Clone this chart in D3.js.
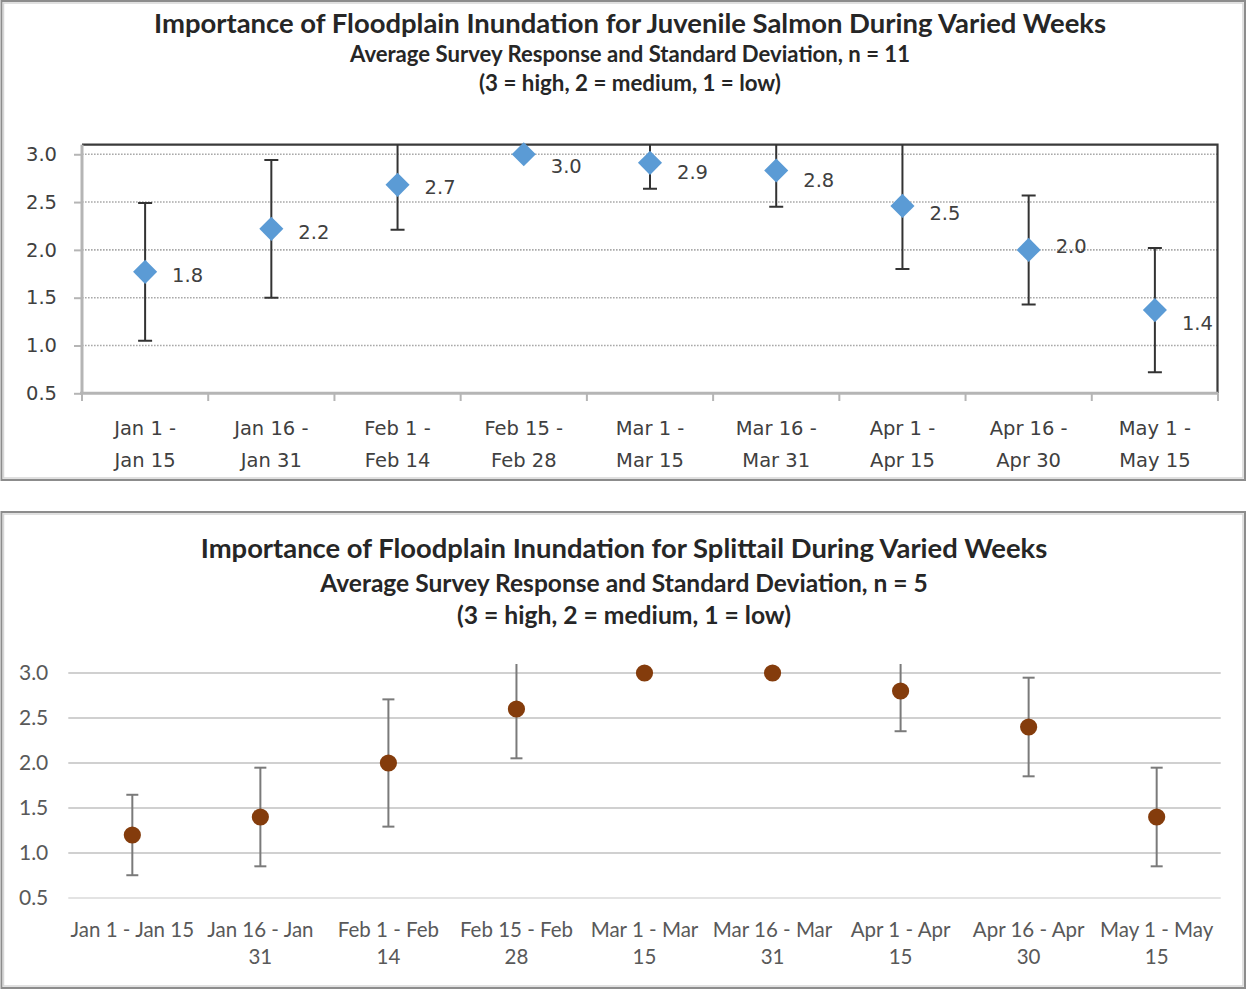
<!DOCTYPE html>
<html>
<head>
<meta charset="utf-8">
<script src="https://cdn.jsdelivr.net/npm/d3@7"></script>
<style>
  html, body { margin: 0; padding: 0; background: #fff; }
  svg { display: block; }
</style>
</head>
<body>
<svg id="chart" width="1247" height="991"></svg>
<script>
// Survey periods (two-week windows)
const periods = ["Jan 1 - Jan 15", "Jan 16 - Jan 31", "Feb 1 - Feb 14", "Feb 15 - Feb 28",
  "Mar 1 - Mar 15", "Mar 16 - Mar 31", "Apr 1 - Apr 15", "Apr 16 - Apr 30", "May 1 - May 15"];

// Juvenile salmon: average response and standard deviation (n = 11)
const salmonMean = [1.77, 2.22, 2.68, 3.0, 2.91, 2.83, 2.46, 2.0, 1.37];
const salmonSD   = [0.72, 0.72, 0.47, 0.0, 0.27, 0.38, 0.66, 0.57, 0.65];

// Splittail: average response and standard deviation (n = 5)
const splittailMean = [1.2, 1.4, 2.0, 2.6, 3.0, 3.0, 2.8, 2.4, 1.4];
const splittailSD   = [0.447, 0.548, 0.707, 0.548, 0.0, 0.0, 0.447, 0.548, 0.548];

// Axis tick values
const yTicks = [0.5, 1.0, 1.5, 2.0, 2.5, 3.0];

// Category labels as they wrap under each chart
const salmonTickLines = periods.map(p => p.replace(" - ", " -\n"));
const splittailTickLines = ["Jan 1 - Jan 15", "Jan 16 - Jan\n31", "Feb 1 - Feb\n14", "Feb 15 - Feb\n28",
  "Mar 1 - Mar\n15", "Mar 16 - Mar\n31", "Apr 1 - Apr\n15", "Apr 16 - Apr\n30", "May 1 - May\n15"];

// Vertical nudges (px) for the salmon value labels
const salmonLabelNudge = [3.5, 2.7, 2.3, 12, 9, 9.7, 7.6, -4, 12.7];

const fmt = d3.format(".1f");
const svg = d3.select("#chart");
svg.append("rect").attr("width", 1247).attr("height", 991).attr("fill", "#fff");

// Scale a text element's font size so it spans the given width
function fitWidth(sel, target) {
  const w = sel.node().getComputedTextLength();
  const fs = parseFloat(sel.attr("font-size"));
  sel.attr("font-size", (fs * target / w).toFixed(2));
}

function panelFrame(y, h) {
  svg.append("rect").attr("x", 1.5).attr("y", y).attr("width", 1243.5).attr("height", h)
    .attr("fill", "none").attr("stroke", "#8c8c8c").attr("stroke-width", 2);
  svg.append("rect").attr("x", 3.5).attr("y", y + 2).attr("width", 1239.5).attr("height", h - 4)
    .attr("fill", "none").attr("stroke", "#d6d6d6").attr("stroke-width", 1.5);
}

function titles(lines, cx, family, color) {
  lines.forEach(l => {
    const t = svg.append("text").attr("x", cx).attr("y", l.y)
      .attr("text-anchor", "middle").attr("font-family", family)
      .attr("font-weight", "bold").attr("font-size", l.size).attr("fill", color).text(l.text);
    fitWidth(t, l.width);
  });
}

/* ---------------- Juvenile salmon chart ---------------- */
panelFrame(1, 479);
titles([
  { text: "Importance of Floodplain Inundation for Juvenile Salmon During Varied Weeks", y: 33, size: 24, width: 952 },
  { text: "Average Survey Response and Standard Deviation, n = 11", y: 62, size: 18, width: 560 },
  { text: "(3 = high,  2 = medium, 1 = low)", y: 91, size: 18, width: 302 }
], 630, "Lato, 'Open Sans', sans-serif", "#262626");

const x1 = d3.scaleBand().domain(periods).range([82, 1218]);
const y1 = d3.scaleLinear().domain([0.5, 3.1]).range([393.3, 144.7]);

const g1 = svg.append("g");
// dotted gridlines
g1.selectAll("line.grid").data(yTicks.slice(1)).join("line")
  .attr("x1", 82).attr("x2", 1218).attr("y1", d => y1(d)).attr("y2", d => y1(d))
  .attr("stroke", "#a9a9a9").attr("stroke-width", 1.6).attr("stroke-dasharray", "1.6 1.4");

// plot area border (top / right)
g1.append("path")
  .attr("d", `M82,${y1(3.1)}H1217.5V393.3`)
  .attr("fill", "none").attr("stroke", "#3a3a3a").attr("stroke-width", 2.2);

// y axis
const yAxis1 = g1.append("g").attr("transform", "translate(82,0)")
  .call(d3.axisLeft(y1).tickValues(yTicks).tickFormat(fmt).tickSize(8).tickSizeOuter(0).tickPadding(17));
yAxis1.select(".domain").attr("d", `M0,${y1(3.1)}V393.3`).attr("stroke", "#b5b5b5").attr("stroke-width", 3);
yAxis1.selectAll(".tick line").attr("stroke", "#b5b5b5").attr("stroke-width", 2);
yAxis1.selectAll(".tick text").attr("font-family", "'DejaVu Sans', Verdana, sans-serif")
  .attr("font-size", 19.5).attr("fill", "#404040");

// x axis with ticks on category boundaries
g1.append("line").attr("x1", 80).attr("x2", 1218).attr("y1", 393.3).attr("y2", 393.3)
  .attr("stroke", "#b5b5b5").attr("stroke-width", 3);
g1.selectAll("line.xtick").data(d3.range(periods.length + 1)).join("line")
  .attr("x1", i => x1.range()[0] + i * x1.bandwidth()).attr("x2", i => x1.range()[0] + i * x1.bandwidth())
  .attr("y1", 393.3).attr("y2", 401).attr("stroke", "#b5b5b5").attr("stroke-width", 2);
g1.selectAll("text.xlab").data(periods).join("text")
  .attr("text-anchor", "middle").attr("font-family", "'DejaVu Sans', Verdana, sans-serif")
  .attr("font-size", 19.5).attr("fill", "#404040")
  .each(function(d, i) {
    const lines = salmonTickLines[i].split("\n");
    d3.select(this).selectAll("tspan").data(lines).join("tspan")
      .attr("x", x1(d) + x1.bandwidth() / 2).attr("y", (l, j) => 435 + j * 32).text(l => l);
  });

// clipped marks
svg.append("clipPath").attr("id", "clip1").append("rect")
  .attr("x", 82).attr("y", y1(3.1)).attr("width", 1136).attr("height", 393.3 - y1(3.1));
const m1 = g1.append("g").attr("clip-path", "url(#clip1)");
const salmon = periods.map((p, i) => ({ p, mean: salmonMean[i], sd: salmonSD[i], i }));
const cx1 = d => x1(d.p) + x1.bandwidth() / 2;

const eb1 = m1.selectAll("g.eb").data(salmon.filter(d => d.sd > 0)).join("g");
eb1.append("line").attr("x1", cx1).attr("x2", cx1)
  .attr("y1", d => y1(d.mean + d.sd)).attr("y2", d => y1(d.mean - d.sd));
eb1.append("line").attr("x1", d => cx1(d) - 7).attr("x2", d => cx1(d) + 7)
  .attr("y1", d => y1(d.mean + d.sd)).attr("y2", d => y1(d.mean + d.sd));
eb1.append("line").attr("x1", d => cx1(d) - 7).attr("x2", d => cx1(d) + 7)
  .attr("y1", d => y1(d.mean - d.sd)).attr("y2", d => y1(d.mean - d.sd));
eb1.selectAll("line").attr("stroke", "#333").attr("stroke-width", 2);

const diamond = d3.symbol().type(d3.symbolSquare).size(290);
g1.selectAll("path.pt").data(salmon).join("path")
  .attr("d", diamond)
  .attr("transform", d => `translate(${cx1(d)},${y1(d.mean)}) rotate(45)`)
  .attr("fill", "#5B9BD5");

g1.selectAll("text.val").data(salmon).join("text")
  .attr("x", d => cx1(d) + 27).attr("y", d => y1(d.mean) + salmonLabelNudge[d.i] + 7)
  .attr("font-family", "'DejaVu Sans', Verdana, sans-serif").attr("font-size", 19.5)
  .attr("fill", "#404040").text(d => fmt(d.mean));

/* ---------------- Splittail chart ---------------- */
panelFrame(512, 476);
titles([
  { text: "Importance of Floodplain Inundation for Splittail During Varied Weeks", y: 558, size: 24, width: 847 },
  { text: "Average Survey Response and Standard Deviation, n = 5", y: 592, size: 18, width: 608 },
  { text: "(3 = high, 2 = medium, 1 = low)", y: 624, size: 18, width: 334 }
], 624, "Lato, 'Open Sans', sans-serif", "#262626");

const x2 = d3.scaleBand().domain(periods).range([68.3, 1220.7]);
const y2 = d3.scaleLinear().domain([0.5, 3.0]).range([898, 673]);

const g2 = svg.append("g");
g2.selectAll("line.grid").data(yTicks).join("line")
  .attr("x1", 68.3).attr("x2", 1220.7).attr("y1", d => y2(d)).attr("y2", d => y2(d))
  .attr("stroke", d => d === 0.5 ? "#e3e3e3" : "#d0d0d0").attr("stroke-width", 2);

const yAxis2 = g2.append("g").attr("transform", "translate(68.3,0)")
  .call(d3.axisLeft(y2).tickValues(yTicks).tickFormat(fmt).tickSize(0).tickPadding(20));
yAxis2.select(".domain").remove();
yAxis2.selectAll(".tick text").attr("font-family", "Lato, 'Open Sans', sans-serif")
  .attr("font-size", 21).attr("fill", "#595959");

g2.selectAll("text.xlab").data(periods).join("text")
  .attr("text-anchor", "middle").attr("font-family", "Lato, 'Open Sans', sans-serif")
  .attr("font-size", 20.5).attr("fill", "#595959")
  .each(function(d, i) {
    const lines = splittailTickLines[i].split("\n");
    d3.select(this).selectAll("tspan").data(lines).join("tspan")
      .attr("x", x2(d) + x2.bandwidth() / 2).attr("y", (l, j) => 937 + j * 27).text(l => l);
  });

svg.append("clipPath").attr("id", "clip2").append("rect")
  .attr("x", 68).attr("y", y2(3.1)).attr("width", 1153).attr("height", 898 - y2(3.1));
const m2 = g2.append("g").attr("clip-path", "url(#clip2)");
const splittail = periods.map((p, i) => ({ p, mean: splittailMean[i], sd: splittailSD[i] }));
const cx2 = d => x2(d.p) + x2.bandwidth() / 2;

const eb2 = m2.selectAll("g.eb").data(splittail.filter(d => d.sd > 0)).join("g");
eb2.append("line").attr("x1", cx2).attr("x2", cx2)
  .attr("y1", d => y2(d.mean + d.sd)).attr("y2", d => y2(d.mean - d.sd));
eb2.append("line").attr("x1", d => cx2(d) - 6).attr("x2", d => cx2(d) + 6)
  .attr("y1", d => y2(d.mean + d.sd)).attr("y2", d => y2(d.mean + d.sd));
eb2.append("line").attr("x1", d => cx2(d) - 6).attr("x2", d => cx2(d) + 6)
  .attr("y1", d => y2(d.mean - d.sd)).attr("y2", d => y2(d.mean - d.sd));
eb2.selectAll("line").attr("stroke", "#7a7a7a").attr("stroke-width", 2);

g2.selectAll("circle.pt").data(splittail).join("circle")
  .attr("cx", cx2).attr("cy", d => y2(d.mean)).attr("r", 8.6)
  .attr("fill", "#843C0C");
</script>
</body>
</html>
